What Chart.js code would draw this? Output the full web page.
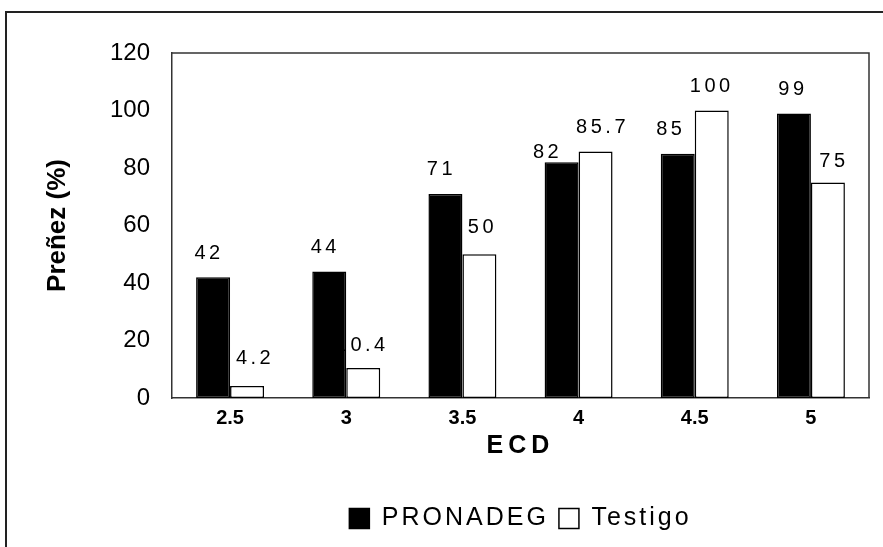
<!DOCTYPE html>
<html>
<head>
<meta charset="utf-8">
<script src="https://cdn.jsdelivr.net/npm/chart.js@4.4.1/dist/chart.umd.min.js"></script>
<style>
  html, body { margin: 0; padding: 0; background: #fff; }
  #wrap { width: 883px; height: 547px; }
</style>
</head>
<body>
<div id="wrap"><canvas id="pregChart" width="883" height="547"></canvas></div>
<script>
const categories = ["2.5", "3", "3.5", "4", "4.5", "5"];
const pronadegValues = [42, 44, 71, 82, 85, 99];
const testigoValues = [4.2, 10.4, 50, 85.7, 100, 75];
const pronadegLabels = ["42", "44", "71", "82", "85", "99"];
const testigoLabels = ["4.2", "10.4", "50", "85.7", "100", "75"];
const yTicks = [0, 20, 40, 60, 80, 100, 120];

const FONT = "'Liberation Sans', Arial, sans-serif";

// canvas letterSpacing for one call, Chart.js has no option for it
const withSpacing = (ctx, sp, fn) => {
  const old = ctx.letterSpacing;
  ctx.letterSpacing = sp;
  try { return fn(); } finally { ctx.letterSpacing = old; }
};

const spacingPlugin = {
  id: "spacing",
  beforeLayout(chart) {
    if (chart.$spaced) return;
    chart.$spaced = true;
    const ctx = chart.ctx;
    const lg = chart.legend;
    const fit = lg.fit, draw = lg.draw;
    lg.fit = function () { return withSpacing(ctx, "3px", () => fit.apply(this, arguments)); };
    lg.draw = function () { return withSpacing(ctx, "3px", () => draw.apply(this, arguments)); };
    const x = chart.scales.x;
    const drawTitle = x.drawTitle;
    x.drawTitle = function () { return withSpacing(ctx, "5px", () => drawTitle.apply(this, arguments)); };
  }
};

const framePlugin = {
  id: "frame",
  beforeDraw(chart) {
    const ctx = chart.ctx;
    ctx.save();
    ctx.fillStyle = "#fff";
    ctx.fillRect(0, 0, chart.width, chart.height);
    ctx.strokeStyle = "#222";
    ctx.lineWidth = 2;
    ctx.beginPath();
    ctx.moveTo(6, chart.height);
    ctx.lineTo(6, 12);
    ctx.lineTo(chart.width, 12);
    ctx.stroke();
    ctx.restore();
  },
  afterDatasetsDraw(chart) {
    const { ctx, chartArea: a } = chart;
    ctx.save();
    ctx.strokeStyle = "#333";
    ctx.lineWidth = 1.5;
    ctx.beginPath();
    ctx.moveTo(a.left, a.top);
    ctx.lineTo(a.right, a.top);
    ctx.lineTo(a.right, a.bottom);
    ctx.stroke();
    ctx.restore();
  }
};

const labelPlugin = {
  id: "barLabels",
  afterDatasetsDraw(chart, args, opts) {
    const ctx = chart.ctx;
    ctx.save();
    ctx.font = "20px " + FONT;
    ctx.fillStyle = "#000";
    ctx.textAlign = "center";
    ctx.textBaseline = "middle";
    ctx.letterSpacing = "3.5px";
    chart.data.datasets.forEach((ds, di) => {
      chart.getDatasetMeta(di).data.forEach((bar, i) => {
        const n = opts.nudge[di + ":" + i] || [0, 0];
        ctx.fillText(ds.valueLabels[i], bar.x + opts.dx[di] + n[0], bar.y + opts.dy + n[1]);
      });
    });
    ctx.restore();
  }
};

new Chart(document.getElementById("pregChart"), {
  type: "bar",
  data: {
    labels: categories,
    datasets: [
      {
        label: "PRONADEG",
        data: pronadegValues,
        valueLabels: pronadegLabels,
        backgroundColor: "#000",
        borderColor: "#000",
        borderWidth: 1.5,
        borderSkipped: false,
      },
      {
        label: "Testigo",
        data: testigoValues,
        valueLabels: testigoLabels,
        backgroundColor: "#fff",
        borderColor: "#000",
        borderWidth: 1.5,
        borderSkipped: false,
      },
    ],
  },
  options: {
    responsive: false,
    devicePixelRatio: 1,
    animation: false,
    categoryPercentage: 0.585,
    barPercentage: 1,
    layout: { padding: { top: 53, right: 14, bottom: 6, left: 0 } },
    plugins: {
      tooltip: { enabled: false },
      legend: {
        position: "bottom",
        fullSize: false,
        labels: {
          boxWidth: 20,
          boxHeight: 20,
          padding: 10,
          color: "#000",
          font: { family: FONT, size: 25 },
        },
      },
      barLabels: {
        dx: [-4, 5],
        dy: -24,
        nudge: {
          "0:3": [-10, 14],
          "0:4": [-3, 0],
          "0:5": [3, 0],
          "1:0": [3, -3],
          "1:1": [-6, 1],
          "1:2": [-2, -3],
          "1:3": [2, 0],
          "1:4": [-5, 0],
          "1:5": [1, 3],
        },
      },
    },
    scales: {
      x: {
        afterFit: (s) => { s.height = 98; },
        grid: { display: false, drawTicks: false },
        border: { display: true, color: "#333", width: 1.5 },
        ticks: { color: "#000", padding: 8, font: { family: FONT, size: 20, weight: "bold" } },
        title: {
          display: true,
          text: "ECD",
          color: "#000",
          font: { family: FONT, size: 25, weight: "bold" },
          padding: { top: 0, bottom: 35 },
        },
      },
      y: {
        min: 0,
        max: 120,
        afterFit: (s) => { s.width = 172; },
        afterBuildTicks: (s) => { s.ticks = yTicks.map((v) => ({ value: v })); },
        grid: { display: false, drawTicks: false },
        border: { display: true, color: "#333", width: 1.5 },
        ticks: { color: "#000", padding: 22, font: { family: FONT, size: 24 } },
        title: {
          display: true,
          text: "Preñez (%)",
          color: "#000",
          font: { family: FONT, size: 26, weight: "bold" },
          padding: { top: 42, bottom: 0 },
        },
      },
    },
  },
  plugins: [spacingPlugin, framePlugin, labelPlugin],
});
</script>
</body>
</html>
